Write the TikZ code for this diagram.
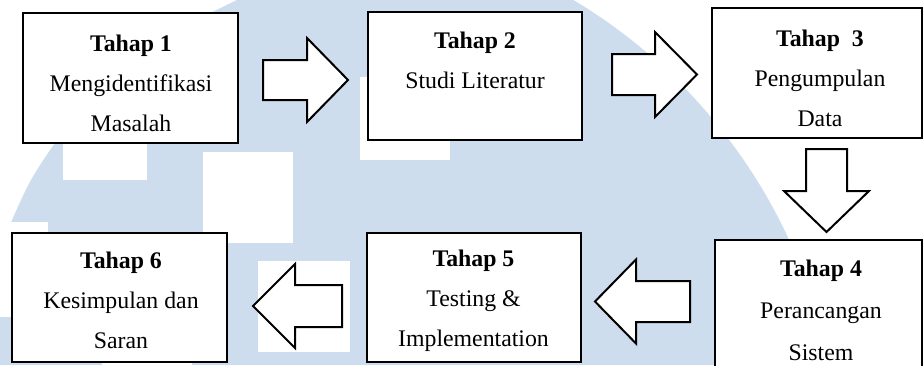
\documentclass[tikz,border=0pt]{standalone}
\usepackage{fontspec}
\setmainfont{Liberation Serif}[Ligatures=NoCommon]
\definecolor{wmblue}{RGB}{205,221,237}

% horizontal block arrow: tail x, head base x, tip x, centre y, shaft half-width, head half-width
\newcommand{\hblock}[6]{%
  \draw[blockarrow] (#1,#4-#5) -- (#2,#4-#5) -- (#2,#4-#6) -- (#3,#4)
    -- (#2,#4+#6) -- (#2,#4+#5) -- (#1,#4+#5) -- cycle;}
% vertical block arrow: tail y, head base y, tip y, centre x, shaft half-width, head half-width
\newcommand{\vblock}[6]{%
  \draw[blockarrow] (#4-#5,#1) -- (#4-#5,#2) -- (#4-#6,#2) -- (#4,#3)
    -- (#4+#6,#2) -- (#4+#5,#2) -- (#4+#5,#1) -- cycle;}

\begin{document}
\begin{tikzpicture}[x=1pt,y=-1pt,
  stepbox/.style={draw=black, fill=white, line width=2pt, inner sep=0pt,
                  rectangle, minimum width=#1},
  steptext/.style={align=center, inner sep=0pt,
                   font=\fontsize{23.8}{40}\selectfont},
  blockarrow/.style={draw=black, fill=white, line width=2pt, line join=miter},
  paper/.style={fill=white}]
\useasboundingbox (0,0) rectangle (924,365);

% background emblem
\begin{scope}
  \clip (294,468) circle [radius=545pt];
  \fill[wmblue] plot[smooth] coordinates {(0,252) (12,220) (31,180) (55,143)
      (85,105) (121,70) (168,35) (237,0)}
    -- (924,0) -- (924,365) -- (0,365) -- cycle;
\end{scope}
\fill[paper] (63,143) rectangle (147,180);
\fill[paper] (203,152) rectangle (293,243);
\fill[paper] (360,77) rectangle (450,160);
\fill[paper] (258,261) rectangle (350,352);
\fill[paper] (0,222) rectangle (48,317);
\fill[paper] (102,362) rectangle (192,365);

% stage boxes
\node[stepbox=215pt, minimum height=130pt] (b1) at (130.5,78) {};
\node[stepbox=214pt, minimum height=128pt] (b2) at (475,76) {};
\node[stepbox=210pt, minimum height=130pt] (b3) at (817,73) {};
\node[stepbox=207pt, minimum height=150pt] (b4) at (818.5,315) {};
\node[stepbox=214pt, minimum height=129pt] (b5) at (474,297.5) {};
\node[stepbox=215pt, minimum height=129pt] (b6) at (119.5,297.5) {};

% stage labels
\node[steptext] (t1) at (131,83) {\textbf{Tahap 1}\\Mengidentifikasi\\Masalah};
\node[steptext] (t2) at (475,60) {\textbf{Tahap 2}\\Studi Literatur};
\node[steptext] (t3) at (820,78) {\textbf{Tahap\ \ 3}\\Pengumpulan\\Data};
\node[steptext, font=\fontsize{23.8}{42}\selectfont] (t4) at (821,310) {\textbf{Tahap 4}\\Perancangan\\Sistem};
\node[steptext] (t5) at (473.5,301) {\textbf{Tahap 5}\\Testing \&\\Implementation};
\node[steptext] (t6) at (121,300) {\textbf{Tahap 6}\\Kesimpulan dan\\Saran};

% flow arrows between the stages
\hblock{263}{307}{348}{80}{20}{42}
\hblock{612}{655}{697}{74.5}{20.5}{42.5}
\vblock{149}{191}{232}{826.5}{20.5}{42.5}
\hblock{690}{636}{595}{301.5}{20.5}{42}
\hblock{342}{295}{253}{306}{21}{42}
\end{tikzpicture}
\end{document}
